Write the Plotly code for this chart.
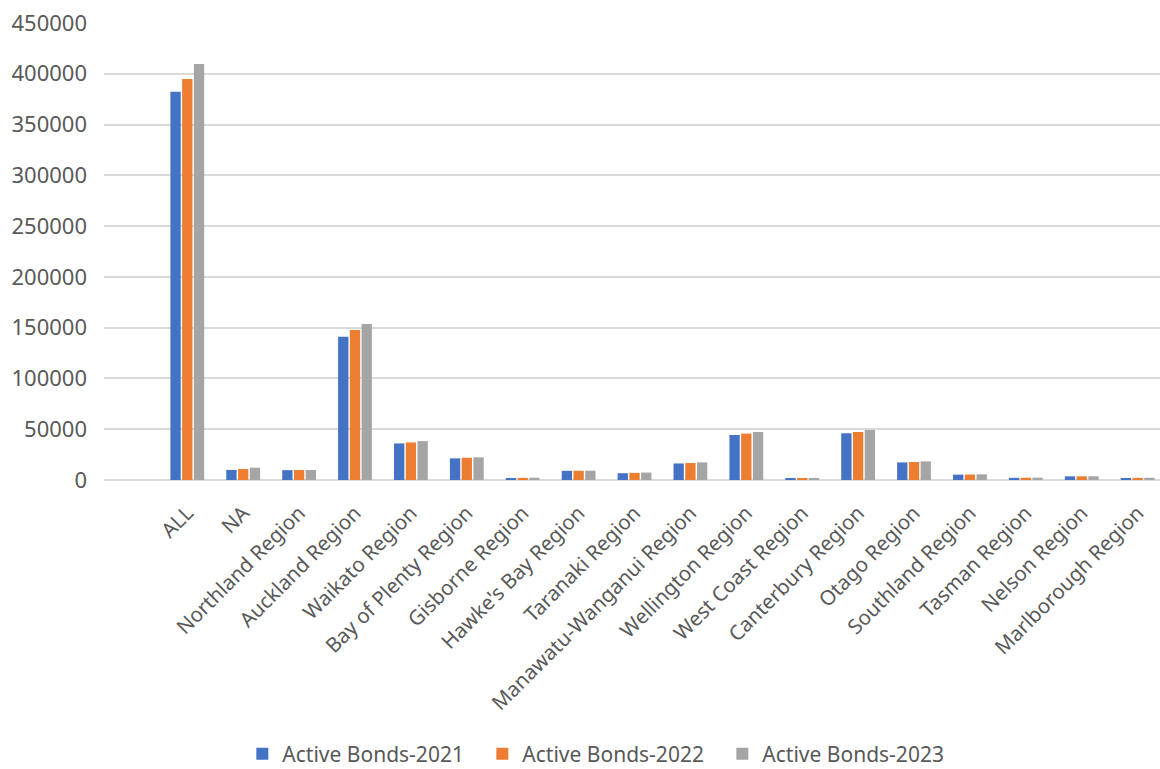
import plotly.graph_objects as go

categories = ["ALL", "NA", "Northland Region", "Auckland Region", "Waikato Region",
              "Bay of Plenty Region", "Gisborne Region", "Hawke's Bay Region",
              "Taranaki Region", "Manawatu-Wanganui Region", "Wellington Region",
              "West Coast Region", "Canterbury Region", "Otago Region",
              "Southland Region", "Tasman Region", "Nelson Region", "Marlborough Region"]

bonds_2021 = [382400, 9900, 9700, 141100, 36000, 21300, 2000, 9000, 6700, 16300,
              44300, 1100, 46000, 17300, 5300, 2100, 3600, 2000]
bonds_2022 = [394900, 10800, 9800, 147700, 37000, 21900, 2100, 9100, 7000, 16700,
              45700, 1100, 47300, 17700, 5400, 2200, 3600, 2100]
bonds_2023 = [409600, 12100, 9900, 153600, 38300, 22300, 2200, 9200, 7300, 17300,
              47300, 1200, 49300, 18300, 5600, 2300, 3700, 2200]

series_names = ["Active Bonds-2021", "Active Bonds-2022", "Active Bonds-2023"]
colors = ["#4472C4", "#ED7D31", "#A5A5A5"]
y_ticks = [0, 50000, 100000, 150000, 200000, 250000, 300000, 350000, 400000, 450000]

fig = go.Figure()
for name, vals, c in zip(series_names, [bonds_2021, bonds_2022, bonds_2023], colors):
    fig.add_trace(go.Bar(name=name, x=categories, y=vals, marker_color=c,
                         marker_line_width=0))

font_family = "Noto Sans"
fig.update_layout(
    width=1160, height=769,
    margin=dict(l=104, r=0, t=23, b=289, autoexpand=False),
    paper_bgcolor="white", plot_bgcolor="white",
    barmode="group", bargap=0.37, bargroupgap=0.12,
    font=dict(family=font_family, size=20, color="#595959"),
    legend=dict(orientation="h", x=0.131, xanchor="left", y=-0.6, yanchor="middle",
                font=dict(size=21, color="#595959"), itemsizing="constant",
                itemwidth=30, entrywidth=195, traceorder="normal"),
    showlegend=True,
)
fig.update_xaxes(type="category", range=[-1.49, 17.40], tickangle=-45,
                 showgrid=False, showline=False, ticks="", ticklabelstandoff=16,
                 automargin=False,
                 tickfont=dict(size=20.5, color="#595959"))
fig.update_yaxes(range=[0, 450000], tickvals=y_ticks, ticktext=[str(v) for v in y_ticks],
                 showgrid=True, gridcolor="#D9D9D9", gridwidth=1.5,
                 zeroline=True, zerolinecolor="#D9D9D9", zerolinewidth=1.5,
                 showline=False, ticks="", ticklabelstandoff=16, automargin=False,
                 tickfont=dict(size=22, color="#595959"))

fig.write_html("out.html")
